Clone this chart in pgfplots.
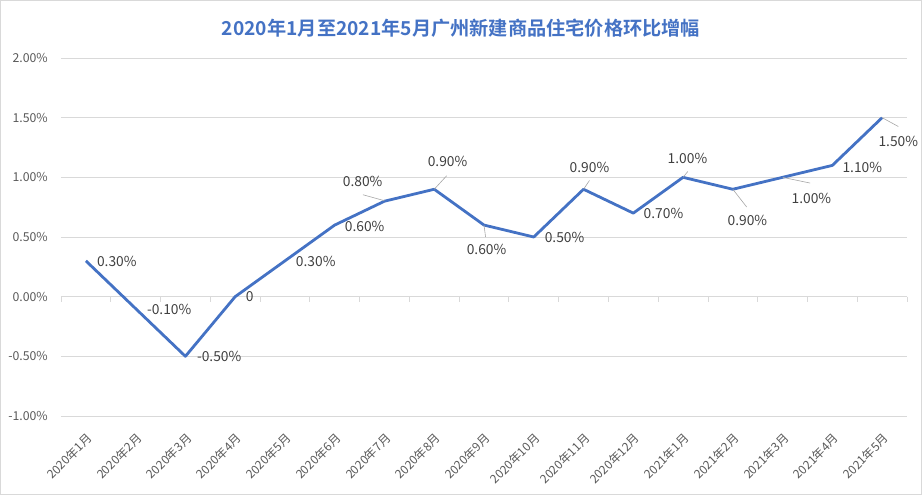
\documentclass[border=0pt]{standalone}
\usepackage{pgfplots}
\pgfplotsset{compat=1.18}
\usepackage{fontspec}
\setmainfont{Noto Sans CJK SC}[BoldFont={* Bold}]
\definecolor{lineblue}{HTML}{4472C4}
\definecolor{titleblue}{HTML}{4472C4}
\definecolor{gridgray}{HTML}{D9D9D9}
\definecolor{tickgray}{HTML}{595959}
\definecolor{labelgray}{HTML}{404040}
\definecolor{leadergray}{HTML}{A6A6A6}
\begin{document}
\begin{tikzpicture}
\draw[gridgray, line width=1pt] (0.5pt,0.5pt) rectangle (921.5pt,494.5pt);
\node[font=\fontsize{19.2}{23}\selectfont\bfseries, text=titleblue] at (461pt,467pt) {2020年1月至2021年5月广州新建商品住宅价格环比增幅};
\begin{axis}[
  at={(61pt,79pt)}, anchor=south west,
  scale only axis, width=846pt, height=358pt,
  xmin=-0.5, xmax=16.5, ymin=-1, ymax=2,
  clip=false,
  axis line style={draw=none},
  major tick length=0pt,
  ymajorgrids, grid style={color=gridgray, line width=0.8pt},
  ytick={-1,-0.5,0,0.5,1,1.5,2},
  yticklabels={-1.00\%,-0.50\%,0.00\%,0.50\%,1.00\%,1.50\%,2.00\%},
  yticklabel style={font=\fontsize{12.3}{14}\selectfont, text=tickgray, anchor=east, inner sep=0pt, xshift=-13pt},
  xtick={0,...,16},
  xticklabels={2020年1月,2020年2月,2020年3月,2020年4月,2020年5月,2020年6月,2020年7月,2020年8月,2020年9月,2020年10月,2020年11月,2020年12月,2021年1月,2021年2月,2021年3月,2021年4月,2021年5月},
  xticklabel style={font=\fontsize{12}{14}\selectfont, text=tickgray, inner sep=0pt, xshift=4pt, yshift=-20pt, rotate=45, anchor=east},
]
\draw[gridgray, line width=0.8pt] (axis cs:-0.5,0) -- (axis cs:16.5,0);
\pgfplotsinvokeforeach{-0.5,0.5,...,16.5}{
  \draw[gridgray, line width=0.8pt] (axis cs:#1,0) -- ++(0pt,-5pt);
}
\addplot[color=lineblue, line width=2.8pt, mark=none, line join=round] coordinates {
(0,0.3) (1,-0.1) (2,-0.5) (3,0) (4,0.3) (5,0.6) (6,0.8) (7,0.9) (8,0.6) (9,0.5) (10,0.9) (11,0.7) (12,1.0) (13,0.9) (14,1.0) (15,1.1) (16,1.5)
};
% leader lines
\draw[leadergray, line width=0.6pt] (axis cs:5.568,0.854) -- (axis cs:6.0,0.804);
\draw[leadergray, line width=0.6pt] (axis cs:7.0,0.9) -- (axis cs:7.249,1.013);
\draw[leadergray, line width=0.6pt] (axis cs:8.0,0.6) -- (axis cs:8.032,0.5);
\draw[leadergray, line width=0.6pt] (axis cs:10.0,0.9) -- (axis cs:10.12,0.974);
\draw[leadergray, line width=0.6pt] (axis cs:12.0,1.0) -- (axis cs:12.095,1.049);
\draw[leadergray, line width=0.6pt] (axis cs:13.0,0.9) -- (axis cs:13.279,0.751);
\draw[leadergray, line width=0.6pt] (axis cs:14.0,1.0) -- (axis cs:14.552,0.952);
\draw[leadergray, line width=0.6pt] (axis cs:16.0,1.5) -- (axis cs:16.325,1.426);
% data labels
\tikzset{dl/.style={anchor=west, inner sep=0pt, text=labelgray, font=\fontsize{13.8}{16}\selectfont}}
\node[dl] at (axis cs:0.221,0.293) {0.30\%};
\node[dl] at (axis cs:1.225,-0.109) {-0.10\%};
\node[dl] at (axis cs:2.229,-0.503) {-0.50\%};
\node[dl] at (axis cs:3.213,0) {0};
\node[dl] at (axis cs:4.217,0.293) {0.30\%};
\node[dl] at (axis cs:5.20,0.586) {0.60\%};
\node[dl] at (axis cs:5.16,0.963) {0.80\%};
\node[dl] at (axis cs:6.867,1.131) {0.90\%};
\node[dl] at (axis cs:7.651,0.394) {0.60\%};
\node[dl] at (axis cs:9.217,0.494) {0.50\%};
\node[dl] at (axis cs:9.719,1.080) {0.90\%};
\node[dl] at (axis cs:11.205,0.695) {0.70\%};
\node[dl] at (axis cs:11.687,1.156) {1.00\%};
\node[dl] at (axis cs:12.892,0.637) {0.90\%};
\node[dl] at (axis cs:14.177,0.821) {1.00\%};
\node[dl] at (axis cs:15.201,1.080) {1.10\%};
\node[dl] at (axis cs:15.924,1.298) {1.50\%};
\end{axis}
\end{tikzpicture}
\end{document}
